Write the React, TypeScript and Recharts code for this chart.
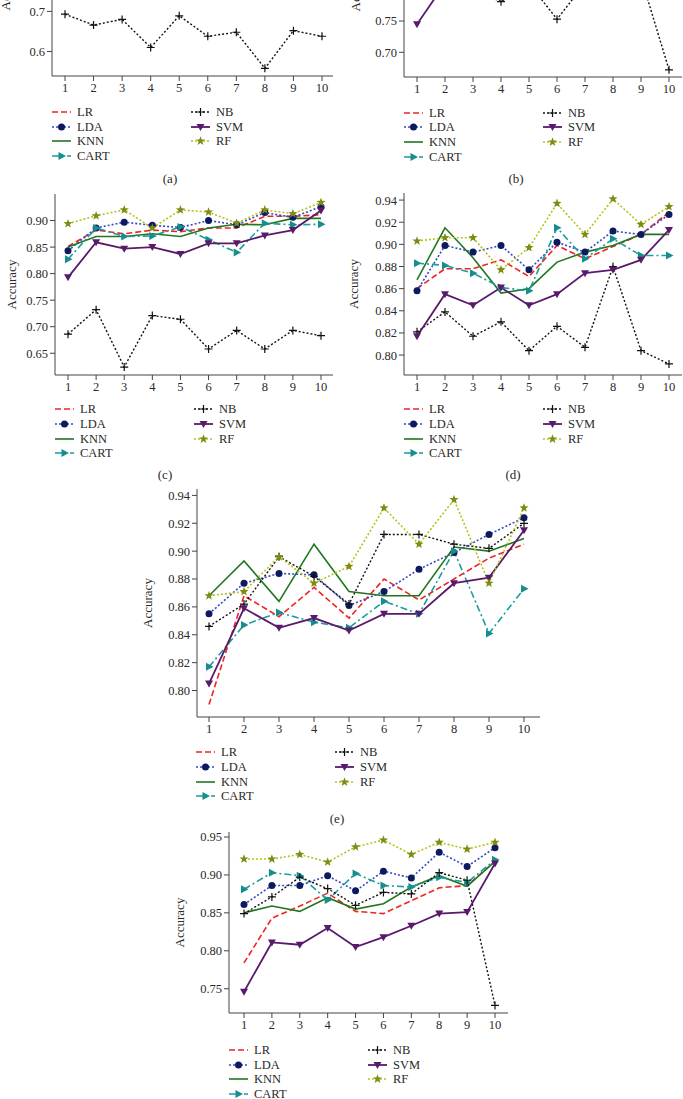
import React from 'react';
import { LineChart, Line, XAxis, YAxis } from 'recharts';

const STEPS = [1, 2, 3, 4, 5, 6, 7, 8, 9, 10];

// (a) only the lower strip of the plot is on the page
const A_NB = [0.693, 0.666, 0.680, 0.610, 0.689, 0.638, 0.648, 0.558, 0.652, 0.638];

// (b) only the lower strip is visible, hidden points are rough guesses
const B_SVM = [0.745, 0.81, 0.83, 0.84, 0.84, 0.85, 0.86, 0.87, 0.88, 0.90];
const B_NB = [0.80, 0.80, 0.80, 0.781, 0.81, 0.753, 0.81, 0.83, 0.82, 0.672];

// (c)
const C_LR = [0.851, 0.882, 0.875, 0.882, 0.879, 0.886, 0.886, 0.908, 0.908, 0.911];
const C_LDA = [0.843, 0.886, 0.897, 0.891, 0.887, 0.900, 0.892, 0.915, 0.906, 0.926];
const C_KNN = [0.850, 0.870, 0.870, 0.875, 0.870, 0.886, 0.893, 0.892, 0.904, 0.904];
const C_CART = [0.827, 0.886, 0.870, 0.871, 0.888, 0.864, 0.840, 0.895, 0.892, 0.893];
const C_NB = [0.686, 0.732, 0.624, 0.721, 0.714, 0.658, 0.693, 0.658, 0.693, 0.683];
const C_SVM = [0.793, 0.859, 0.847, 0.850, 0.837, 0.857, 0.857, 0.872, 0.882, 0.919];
const C_RF = [0.894, 0.909, 0.920, 0.886, 0.920, 0.916, 0.895, 0.920, 0.913, 0.934];

// (d)
const D_LR = [0.860, 0.878, 0.878, 0.886, 0.871, 0.899, 0.887, 0.898, 0.909, 0.929];
const D_LDA = [0.858, 0.899, 0.893, 0.899, 0.877, 0.902, 0.893, 0.912, 0.909, 0.927];
const D_KNN = [0.868, 0.915, 0.888, 0.856, 0.860, 0.884, 0.893, 0.899, 0.909, 0.909];
const D_CART = [0.883, 0.881, 0.874, 0.861, 0.858, 0.915, 0.887, 0.905, 0.890, 0.890];
const D_NB = [0.821, 0.839, 0.817, 0.830, 0.804, 0.826, 0.807, 0.880, 0.804, 0.792];
const D_SVM = [0.817, 0.855, 0.845, 0.861, 0.845, 0.855, 0.874, 0.877, 0.886, 0.913];
const D_RF = [0.903, 0.906, 0.906, 0.877, 0.897, 0.937, 0.909, 0.941, 0.918, 0.934];

// (e)
const E_LR = [0.790, 0.868, 0.853, 0.874, 0.852, 0.880, 0.865, 0.880, 0.895, 0.905];
const E_LDA = [0.855, 0.877, 0.884, 0.883, 0.861, 0.871, 0.887, 0.899, 0.912, 0.924];
const E_KNN = [0.868, 0.893, 0.864, 0.905, 0.871, 0.868, 0.868, 0.903, 0.900, 0.909];
const E_CART = [0.817, 0.847, 0.856, 0.849, 0.845, 0.864, 0.855, 0.900, 0.841, 0.873];
const E_NB = [0.846, 0.862, 0.896, 0.882, 0.862, 0.912, 0.912, 0.905, 0.902, 0.920];
const E_SVM = [0.805, 0.859, 0.845, 0.852, 0.843, 0.855, 0.855, 0.877, 0.881, 0.915];
const E_RF = [0.868, 0.871, 0.896, 0.877, 0.889, 0.931, 0.905, 0.937, 0.877, 0.931];

// (f)
const F_LR = [0.784, 0.843, 0.859, 0.876, 0.852, 0.849, 0.866, 0.883, 0.886, 0.918];
const F_LDA = [0.861, 0.886, 0.886, 0.899, 0.879, 0.905, 0.896, 0.930, 0.911, 0.936];
const F_KNN = [0.850, 0.859, 0.852, 0.870, 0.855, 0.862, 0.884, 0.899, 0.885, 0.918];
const F_CART = [0.881, 0.903, 0.899, 0.867, 0.902, 0.886, 0.884, 0.897, 0.890, 0.920];
const F_NB = [0.849, 0.871, 0.897, 0.882, 0.860, 0.877, 0.875, 0.903, 0.893, 0.728];
const F_SVM = [0.746, 0.811, 0.808, 0.830, 0.805, 0.818, 0.833, 0.849, 0.851, 0.915];
const F_RF = [0.921, 0.921, 0.927, 0.917, 0.937, 0.946, 0.927, 0.943, 0.934, 0.943];

const FONT = '"Liberation Serif", "DejaVu Serif", serif';
const AXIS = '#444';
const TXT = '#2a2a2a';

type Series = { key: string; color: string; dash?: string; width: number; marker?: string; mcolor?: string };

const SERIES: Series[] = [
    { key: 'LR', color: '#ee2424', dash: '6 3', width: 1.6 },
    { key: 'LDA', color: '#3448c4', dash: '2 2', width: 1.6, marker: 'circle', mcolor: '#0e1a5e' },
    { key: 'KNN', color: '#21771f', width: 1.6 },
    { key: 'CART', color: '#1c9c9c', dash: '7 3 2 3', width: 1.6, marker: 'triRight', mcolor: '#178e8e' },
    { key: 'NB', color: '#111', dash: '2 2', width: 1.4, marker: 'plus', mcolor: '#111' },
    { key: 'SVM', color: '#5a1a6c', width: 1.8, marker: 'triDown', mcolor: '#5a1a6c' },
    { key: 'RF', color: '#b5c21c', dash: '2 2', width: 1.6, marker: 'star', mcolor: '#7e8c12' },
];

const buildRows = (cols: Record<string, (number | null)[]>) =>
    STEPS.map((x, i) => {
        const row: any = { x };
        Object.keys(cols).forEach(k => { row[k] = cols[k][i]; });
        return row;
    });

const starPoints = (cx: number, cy: number, ro: number, ri: number) => {
    const pts: string[] = [];
    for (let i = 0; i < 10; i++) {
        const r = i % 2 === 0 ? ro : ri;
        const a = -Math.PI / 2 + (i * Math.PI) / 5;
        pts.push(`${cx + r * Math.cos(a)},${cy + r * Math.sin(a)}`);
    }
    return pts.join(' ');
};

const markerShape = (kind: string | undefined, cx: number, cy: number, color: string, key?: any) => {
    switch (kind) {
        case 'circle':
            return <circle key={key} cx={cx} cy={cy} r={3.5} fill={color} />;
        case 'plus':
            return <path key={key} d={`M${cx - 4},${cy}h8M${cx},${cy - 4}v8`} stroke={color} strokeWidth={1.2} fill="none" />;
        case 'triDown':
            return <polygon key={key} points={`${cx - 4},${cy - 3} ${cx + 4},${cy - 3} ${cx},${cy + 4}`} fill={color} />;
        case 'triRight':
            return <polygon key={key} points={`${cx - 3},${cy - 4} ${cx - 3},${cy + 4} ${cx + 4.5},${cy}`} fill={color} />;
        case 'star':
            return <polygon key={key} points={starPoints(cx, cy, 4.8, 2)} fill={color} />;
        default:
            return <g key={key} />;
    }
};

type Frame = { l: number; t: number; r: number; b: number };

interface PanelProps {
    frame: Frame;
    domain: [number, number];
    ticks: number[];
    digits: number;
    pad: { left: number; right: number };
    rows: any[];
    labelGap: number;
}

const YW = 60;
const MT = 5;
const MR = 5;
const XH = 30;

const Panel: React.FC<PanelProps> = ({ frame, domain, ticks, digits, pad, rows, labelGap }) => {
    const w = frame.r - frame.l + YW + MR;
    const h = frame.b - frame.t + MT + XH;
    const present = SERIES.filter(s => s.key in rows[0]);
    return (
        <div style={{ position: 'absolute', left: frame.l - YW, top: frame.t - MT }}>
            <LineChart width={w} height={h} data={rows} margin={{ top: MT, right: MR, bottom: 0, left: 0 }}>
                <XAxis
                    dataKey="x"
                    type="number"
                    domain={[1, 10]}
                    ticks={STEPS}
                    padding={pad}
                    height={XH}
                    tickSize={5}
                    axisLine={{ stroke: AXIS }}
                    tickLine={{ stroke: AXIS }}
                    tick={{ fill: TXT, fontSize: 12.5, fontFamily: FONT }}
                />
                <XAxis
                    xAxisId="top"
                    orientation="top"
                    type="number"
                    domain={[1, 10]}
                    padding={pad}
                    height={0}
                    tick={false}
                    tickLine={false}
                    axisLine={{ stroke: AXIS }}
                />
                <YAxis
                    type="number"
                    domain={domain}
                    ticks={ticks}
                    allowDataOverflow
                    width={YW}
                    tickSize={5}
                    axisLine={{ stroke: AXIS }}
                    tickLine={{ stroke: AXIS }}
                    tick={{ fill: TXT, fontSize: 12.5, fontFamily: FONT }}
                    tickFormatter={(v: number) => v.toFixed(digits)}
                    label={{
                        value: 'Accuracy',
                        angle: -90,
                        position: 'insideLeft',
                        offset: YW - labelGap,
                        style: { textAnchor: 'middle', fill: TXT, fontSize: 13, fontFamily: FONT },
                    }}
                />
                <YAxis
                    yAxisId="right"
                    orientation="right"
                    domain={[0, 1]}
                    width={0}
                    tick={false}
                    tickLine={false}
                    axisLine={{ stroke: AXIS }}
                />
                {present.map(s => (
                    <Line
                        key={s.key}
                        dataKey={s.key}
                        type="linear"
                        stroke={s.color}
                        strokeWidth={s.width}
                        strokeDasharray={s.dash}
                        isAnimationActive={false}
                        activeDot={false}
                        dot={(p: any) =>
                            p.cx == null || p.cy == null || p.value == null
                                ? <g key={`${s.key}-${p.index}`} />
                                : markerShape(s.marker, p.cx, p.cy, s.mcolor || s.color, `${s.key}-${p.index}`)
                        }
                    />
                ))}
            </LineChart>
        </div>
    );
};

const LegendBlock: React.FC<{ x: number; y: number }> = ({ x, y }) => (
    <>
        {SERIES.map((s, i) => {
            const col = i < 4 ? 0 : 1;
            const row = i < 4 ? i : i - 4;
            return (
                <div
                    key={s.key}
                    style={{
                        position: 'absolute',
                        left: x + col * 139,
                        top: y + row * 14.7 - 8,
                        height: 16,
                        display: 'flex',
                        alignItems: 'center',
                        fontFamily: FONT,
                        fontSize: 12.5,
                        color: TXT,
                        whiteSpace: 'nowrap',
                    }}
                >
                    <svg width={19} height={16} style={{ display: 'block' }}>
                        <line x1={0} y1={8} x2={19} y2={8} stroke={s.color} strokeWidth={s.width} strokeDasharray={s.dash} />
                        {markerShape(s.marker, 9.5, 8, s.mcolor || s.color)}
                    </svg>
                    <span style={{ marginLeft: 6, lineHeight: '16px' }}>{s.key}</span>
                </div>
            );
        })}
    </>
);

const Caption: React.FC<{ x: number; y: number; text: string }> = ({ x, y, text }) => (
    <div
        style={{
            position: 'absolute',
            left: x - 20,
            top: y - 8,
            width: 40,
            lineHeight: '16px',
            textAlign: 'center',
            fontFamily: FONT,
            fontSize: 13,
            color: TXT,
        }}
    >
        {text}
    </div>
);

const range = (a: number, b: number, step: number) => {
    const out: number[] = [];
    for (let v = a; v <= b + 1e-9; v += step) out.push(Math.round(v * 1000) / 1000);
    return out;
};

export default function App() {
    const rowsA = buildRows({ NB: A_NB });
    const rowsB = buildRows({ NB: B_NB, SVM: B_SVM });
    const rowsC = buildRows({ LR: C_LR, LDA: C_LDA, KNN: C_KNN, CART: C_CART, NB: C_NB, SVM: C_SVM, RF: C_RF });
    const rowsD = buildRows({ LR: D_LR, LDA: D_LDA, KNN: D_KNN, CART: D_CART, NB: D_NB, SVM: D_SVM, RF: D_RF });
    const rowsE = buildRows({ LR: E_LR, LDA: E_LDA, KNN: E_KNN, CART: E_CART, NB: E_NB, SVM: E_SVM, RF: E_RF });
    const rowsF = buildRows({ LR: F_LR, LDA: F_LDA, KNN: F_KNN, CART: F_CART, NB: F_NB, SVM: F_SVM, RF: F_RF });

    return (
        <div style={{ position: 'absolute', left: 0, top: 0, width: 683, height: 1099, overflow: 'hidden', background: '#fff' }}>
            {/* top row is cut off by the page edge, only the lower ticks show */}
            <Panel frame={{ l: 52, t: -105, r: 333, b: 76 }} domain={[0.539, 0.99]} ticks={[0.6, 0.7]} digits={1}
                pad={{ left: 13, right: 11 }} rows={rowsA} labelGap={47} />
            <Panel frame={{ l: 404, t: -104, r: 682, b: 77 }} domain={[0.6605, 0.95]} ticks={[0.7, 0.75]} digits={2}
                pad={{ left: 13, right: 13 }} rows={rowsB} labelGap={49} />
            <LegendBlock x={52} y={112} />
            <LegendBlock x={404} y={112.7} />
            <Caption x={170} y={179} text="(a)" />
            <Caption x={516} y={179} text="(b)" />

            <Panel frame={{ l: 55, t: 194, r: 333, b: 375 }} domain={[0.609, 0.95]} ticks={range(0.65, 0.9, 0.05)} digits={2}
                pad={{ left: 13, right: 12 }} rows={rowsC} labelGap={44} />
            <Panel frame={{ l: 404, t: 193, r: 682, b: 375 }} domain={[0.782, 0.9464]} ticks={range(0.8, 0.94, 0.02)} digits={2}
                pad={{ left: 13, right: 13 }} rows={rowsD} labelGap={51} />
            <LegendBlock x={55} y={409.3} />
            <LegendBlock x={404} y={409.3} />
            <Caption x={165} y={475} text="(c)" />
            <Caption x={513} y={475} text="(d)" />

            <Panel frame={{ l: 197, t: 489, r: 540, b: 717 }} domain={[0.781, 0.9446]} ticks={range(0.8, 0.94, 0.02)} digits={2}
                pad={{ left: 12, right: 16 }} rows={rowsE} labelGap={50} />
            <LegendBlock x={196} y={752.3} />
            <Caption x={337} y={819} text="(e)" />

            <Panel frame={{ l: 229, t: 832, r: 508, b: 1013 }} domain={[0.718, 0.9566]} ticks={range(0.75, 0.95, 0.05)} digits={2}
                pad={{ left: 15, right: 13 }} rows={rowsF} labelGap={50} />
            <LegendBlock x={229} y={1050} />
        </div>
    );
}
